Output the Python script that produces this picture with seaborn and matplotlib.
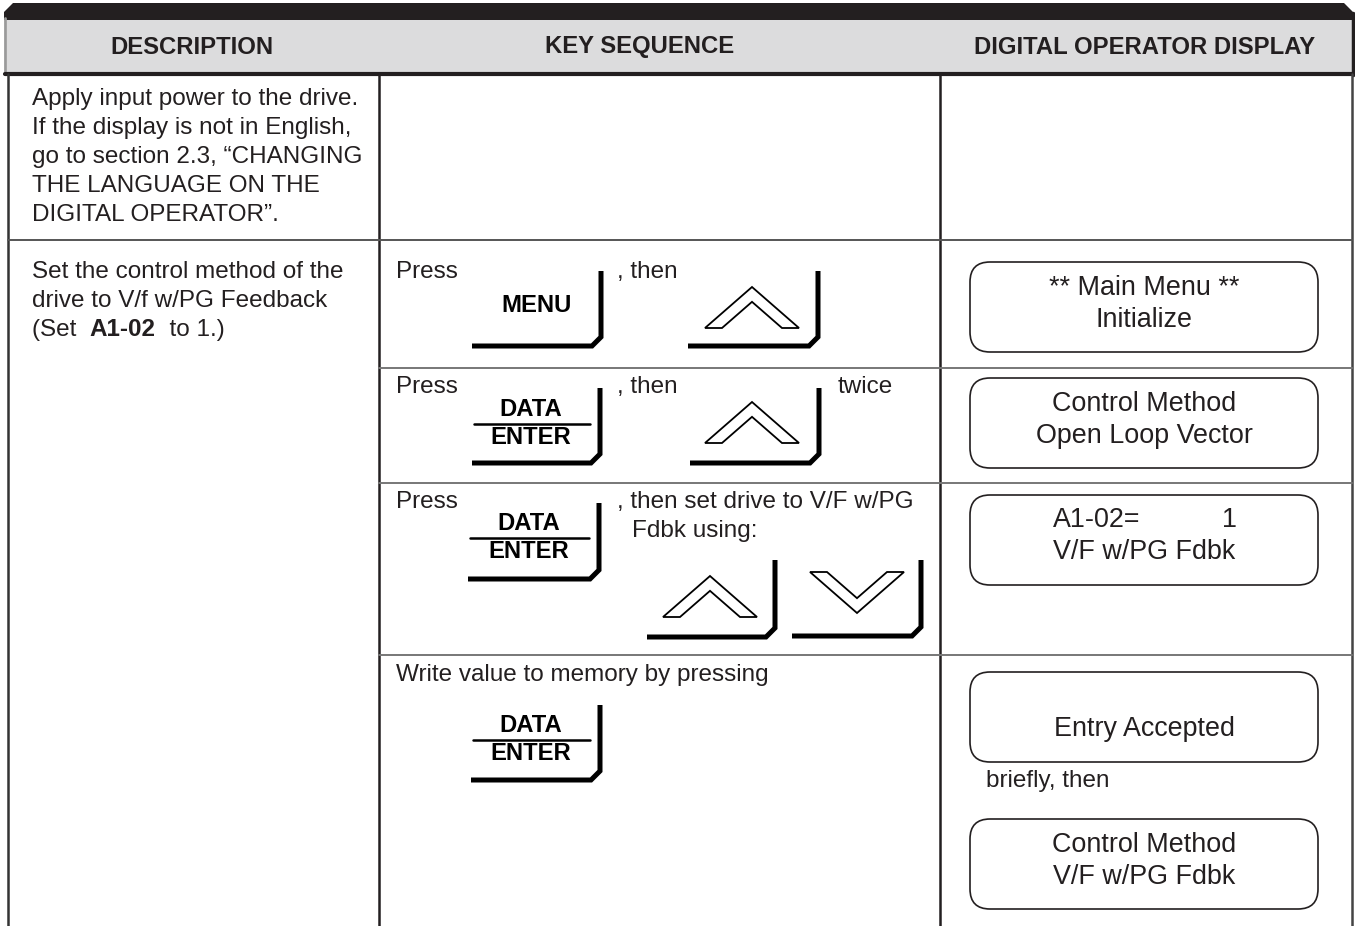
import matplotlib
matplotlib.use("Agg")
import matplotlib.pyplot as plt
import seaborn as sns
from matplotlib.patches import Polygon, FancyBboxPatch, Rectangle

# Textos da tabela
cabecalhos = ["DESCRIPTION", "KEY SEQUENCE", "DIGITAL OPERATOR DISPLAY"]
descricao_1 = [
    "Apply input power to the drive.",
    "If the display is not in English,",
    "go to section 2.3, \u201cCHANGING",
    "THE LANGUAGE ON THE",
    "DIGITAL OPERATOR\u201d.",
]
descricao_2 = ["Set the control method of the", "drive to V/f w/PG Feedback"]
descricao_2_partes = ["(Set  ", "A1-02", "  to 1.)"]
passos = [
    ["Press", ", then"],
    ["Press", ", then", "twice"],
    ["Press", ", then set drive to V/F w/PG", "Fdbk using:"],
    ["Write value to memory by pressing"],
]
teclas = ["MENU", "DATA", "ENTER"]
visor = [
    ["** Main Menu **", "Initialize"],
    ["Control Method", "Open Loop Vector"],
    ["A1-02=", "1", "V/F w/PG Fdbk"],
    ["Entry Accepted"],
    ["Control Method", "V/F w/PG Fdbk"],
]
nota_visor = "briefly, then"

TXT = "#231f20"
FS = 17.5      # texto normal
FS_CAB = 17.2  # cabecalho / teclas
FS_VIS = 19.4  # visor

sns.set_theme(style="white")
plt.rcParams["font.family"] = ["Liberation Sans", "DejaVu Sans"]

fig = plt.figure(figsize=(13.55, 9.26), dpi=100)
ax = fig.add_axes([0, 0, 1, 1])
ax.set_xlim(0, 1355)
ax.set_ylim(926, 0)
ax.axis("off")


# Tecla com canto chanfrado
def desenha_tecla(ax, x0, x1, y0, y1, c=9):
    ax.plot([x1, x1, x1 - c, x0], [y0, y1 - c, y1, y1], color="black", lw=3.6,
            solid_joinstyle="miter", solid_capstyle="butt")


# Seta (chevron) para cima ou para baixo
def desenha_seta(ax, cx, yb, cima=True, hw=47, h=41, iw=30):
    s = -1 if cima else 1
    ih = iw * h / hw
    pts = [(cx - hw, yb), (cx, yb + s * h), (cx + hw, yb),
           (cx + iw, yb), (cx, yb + s * ih), (cx - iw, yb)]
    ax.add_patch(Polygon(pts, closed=True, fc="white", ec="black", lw=1.3))


def desenha_visor(ax, y0, y1, x0=970, x1=1318, r=20):
    ax.add_patch(FancyBboxPatch((x0 + r, y0 + r), x1 - x0 - 2 * r, y1 - y0 - 2 * r,
                                boxstyle=f"round,pad={r},rounding_size={r}",
                                fc="white", ec=TXT, lw=1.2))


# Cabecalho
ax.add_patch(Rectangle((7, 18), 1346, 55, fc="#dcdcdd", ec="none"))
ax.add_patch(Polygon([(4, 20), (4, 12), (13, 3), (1344, 3), (1354, 13), (1354, 20)],
                     closed=True, fc=TXT, ec="none"))
ax.plot([1353, 1353], [13, 75], color=TXT, lw=2.5)
ax.plot([5, 5], [18, 74], color="#9a9a9a", lw=2)
ax.plot([5, 1354], [73.5, 73.5], color=TXT, lw=3)
for txt, cx in zip(cabecalhos, [192, 640, 1145]):
    ax.text(cx, 47, txt, ha="center", va="center", fontsize=FS_CAB,
            fontweight="bold", color=TXT)

# Grade
for x, c in [(8, "#333333"), (379, TXT), (940, TXT), (1352, "#444444")]:
    ax.plot([x, x], [74, 926], color=c, lw=1.8)
ax.plot([8, 1352], [240, 240], color="#555555", lw=1.4)
for y in [368, 483, 655]:
    ax.plot([379, 1352], [y, y], color="#777777", lw=1.4)

# Coluna de descricao
for i, linha in enumerate(descricao_1):
    ax.text(32, 99 + 29 * i, linha, va="center", fontsize=FS, color=TXT)
for i, linha in enumerate(descricao_2):
    ax.text(32, 272 + 29 * i, linha, va="center", fontsize=FS, color=TXT)
t = ax.text(32, 330, descricao_2_partes[0], va="center", fontsize=FS, color=TXT)
t = ax.annotate(descricao_2_partes[1], xy=(1, 0), xycoords=t, va="bottom",
                fontsize=FS, fontweight="bold", color=TXT)
ax.annotate(descricao_2_partes[2], xy=(1, 0), xycoords=t, va="bottom",
            fontsize=FS, color=TXT)

# Coluna de sequencia de teclas
pos_passos = [
    [(396, 272), (617, 272)],
    [(396, 387), (617, 387), (838, 387)],
    [(396, 502), (617, 502), (632, 531)],
    [(396, 675)],
]
for textos, posicoes in zip(passos, pos_passos):
    for txt, (x, y) in zip(textos, posicoes):
        ax.text(x, y, txt, va="center", fontsize=FS, color=TXT)

# MENU
desenha_tecla(ax, 472, 601, 271, 346)
ax.text(537, 306, teclas[0], ha="center", va="center", fontsize=FS_CAB,
        fontweight="bold", color="black")
# DATA/ENTER
for (x0, x1, y0, y1, ty) in [(472, 600, 388, 463, 409), (468, 599, 503, 579, 523),
                             (471, 600, 705, 780, 725)]:
    desenha_tecla(ax, x0, x1, y0, y1)
    cx = (x0 + x1 - 10) / 2
    ax.text(cx, ty, teclas[1], ha="center", va="center", fontsize=FS_CAB,
            fontweight="bold", color="black")
    ax.text(cx, ty + 29, teclas[2], ha="center", va="center", fontsize=FS_CAB,
            fontweight="bold", color="black")
    ax.plot([x0 + 2, x1 - 10], [ty + 14.5, ty + 14.5], color="black", lw=1.8)

# Setas
desenha_tecla(ax, 688, 818, 271, 346)
desenha_seta(ax, 752, 328)
desenha_tecla(ax, 690, 819, 388, 463)
desenha_seta(ax, 752, 443)
desenha_tecla(ax, 647, 775, 560, 637)
desenha_seta(ax, 710, 617)
desenha_tecla(ax, 792, 921, 560, 636)
desenha_seta(ax, 857, 572, cima=False)

# Visor
caixas = [(262, 352), (378, 468), (495, 585), (672, 762), (819, 909)]
for (y0, y1) in caixas:
    desenha_visor(ax, y0, y1)
for linhas, (y0, y1) in zip([visor[0], visor[1], visor[4]], [caixas[0], caixas[1], caixas[4]]):
    ax.text(1144, y0 + 26, linhas[0], ha="center", va="center", fontsize=FS_VIS, color=TXT)
    ax.text(1144, y0 + 58, linhas[1], ha="center", va="center", fontsize=FS_VIS, color=TXT)
ax.text(1053, 520, visor[2][0], ha="left", va="center", fontsize=FS_VIS, color=TXT)
ax.text(1229, 520, visor[2][1], ha="center", va="center", fontsize=FS_VIS, color=TXT)
ax.text(1053, 552, visor[2][2], ha="left", va="center", fontsize=FS_VIS, color=TXT)
ax.text(1144, 729, visor[3][0], ha="center", va="center", fontsize=FS_VIS, color=TXT)
ax.text(986, 781, nota_visor, ha="left", va="center", fontsize=FS, color=TXT)

fig.savefig("out.png", dpi=100)
